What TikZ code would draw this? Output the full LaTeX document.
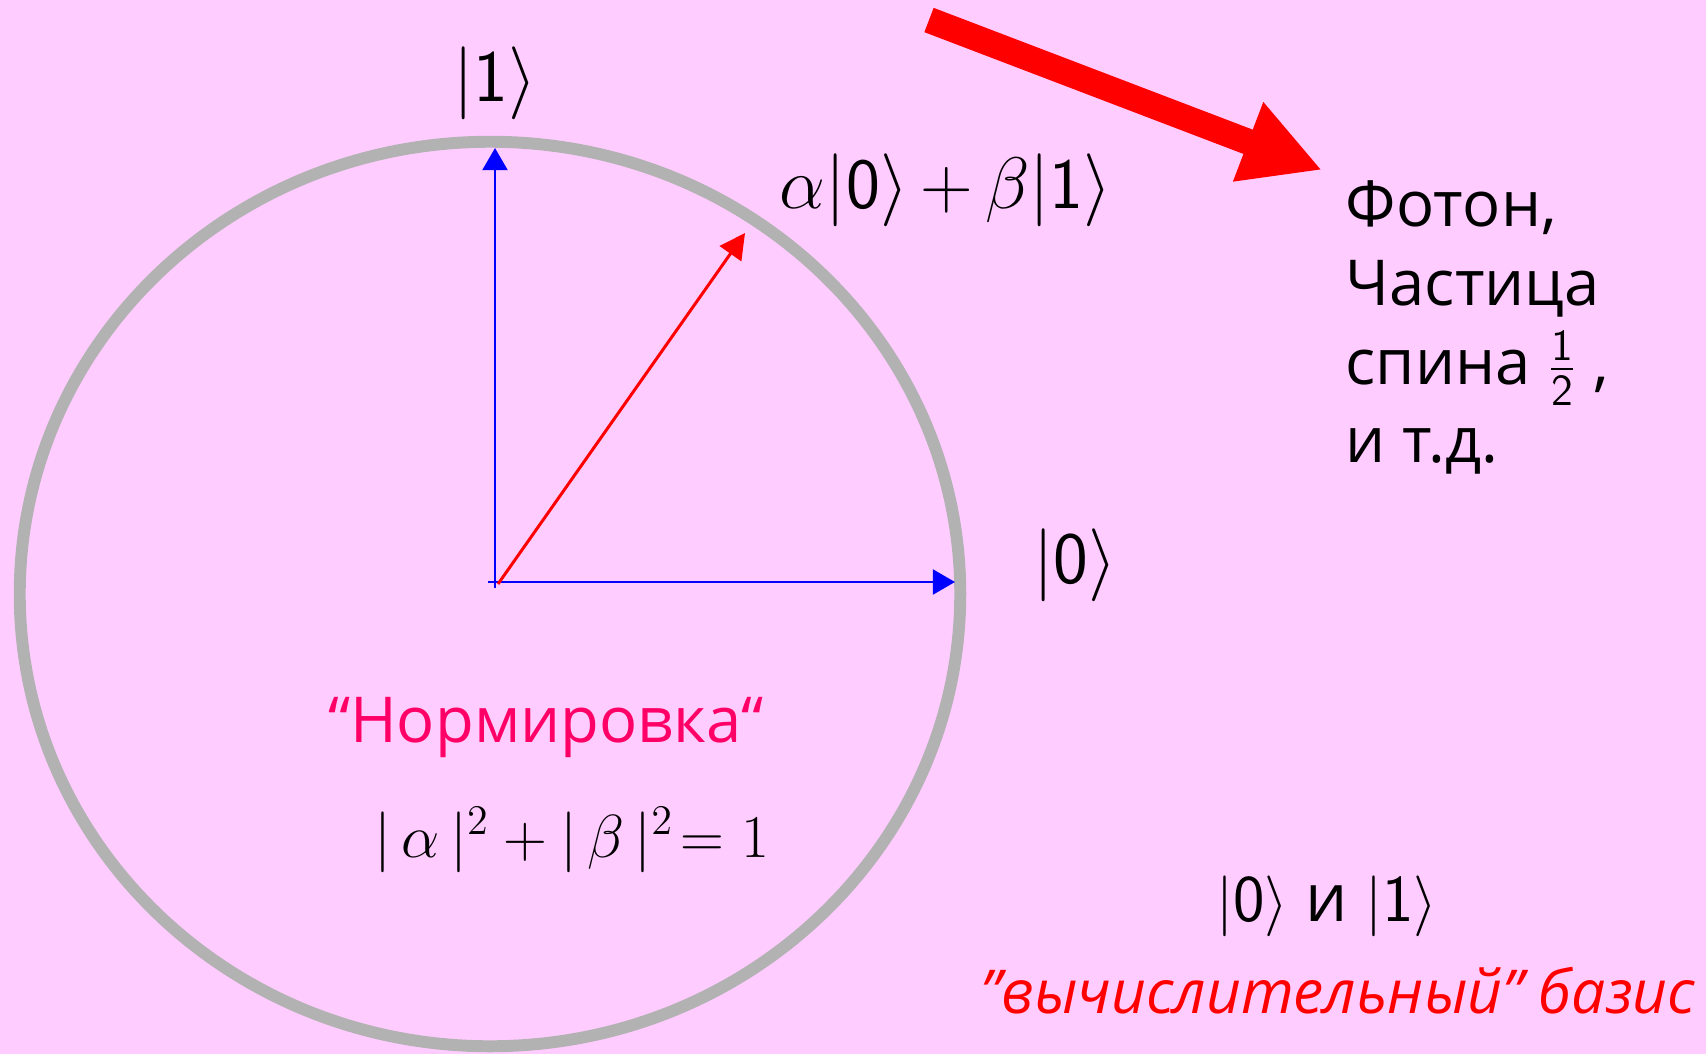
\documentclass[tikz,border=0pt]{standalone}
\usepackage{fontspec}
\setmainfont{Open Sans}
\usetikzlibrary{arrows.meta}

\definecolor{bgpink}{RGB}{255,204,255}
\definecolor{ringgray}{RGB}{178,178,178}
\definecolor{normpink}{RGB}{255,0,102}

\newcommand{\ketv}[1]{|\mathsf{#1}\rangle}

\begin{document}
\begin{tikzpicture}[x=0.01cm, y=-0.01cm,
    axis/.style={blue, line width=0.7pt, -{Triangle[length=6.3pt, width=7.1pt]}},
    state/.style={red, line width=0.85pt, -{Triangle[length=7.2pt, width=7.4pt]}},
    ketlabel/.style={inner sep=0pt, font=\fontsize{21}{25}\selectfont}]

        % --- Background and frame ---
        \useasboundingbox (0,0) rectangle (1706,1054);
        \fill[bgpink] (0,0) rectangle (1706,1054);

        % --- Unit circle (slightly squashed, as drawn) ---
        \draw[ringgray, line width=3.4pt] (490,594) ellipse [x radius=4.70cm, y radius=4.52cm];

        % --- Basis vectors ---
        \coordinate (O) at (495,582);
        \coordinate (e0) at (955,582);
        \coordinate (e1) at (495,148);
        \draw[axis] (488,582) -- (e0);
        \draw[axis] (495,588) -- (e1);

        % --- State vector ---
        \coordinate (psi) at (745,233);
        \draw[state] (498,584) -- (psi);

        % --- Ket labels ---
        \node[ketlabel] (k1) at (495,83) {$\ketv{1}$};
        \node[ketlabel] (k0) at (1075,565) {$\ketv{0}$};
        \node[ketlabel, font=\fontsize{20.5}{24}\selectfont] (kpsi) at (946,190) {$\alpha\ketv{0}\,{+}\,\beta\ketv{1}$};

        % --- Normalisation ---
        \node[normpink, inner sep=0pt, font=\fontsize{18}{22}\selectfont, anchor=base] (norm) at (546,742) {“Нормировка“};
        \node[inner sep=0pt, font=\fontsize{18}{22}\selectfont] (normeq) at (572,840) {$|\,\alpha\,|^2+|\,\beta\,|^2\!=1$};

        % --- Physical examples, with pointer ---
        \node[inner sep=0pt, align=left, anchor=north west, font=\fontsize{18}{22.4}\selectfont] (phys) at (1345,180)
            {Фотон,\\Частица\\спина $\frac{\mathsf{1}}{\mathsf{2}}$ ,\\и т.д.};
        \coordinate (tailA) at (929,20);
        \coordinate (tipA) at (1322,170);
        \draw[red, line width=7.4pt, -{Triangle[length=22.5pt, width=22.5pt]}] (tailA) -- (tipA);

        % --- Computational basis ---
        \node[inner sep=0pt, font=\fontsize{19}{23}\selectfont] (basis) at (1327,906) {$\ketv{0}$ и $\ketv{1}$};
        \node[red, inner sep=0pt, font=\fontsize{17.2}{21}\selectfont\itshape, anchor=base] (basisname) at (1338,1013) {\symbol{"22}вычислительный\symbol{"22} базис};

\end{tikzpicture}
\end{document}
